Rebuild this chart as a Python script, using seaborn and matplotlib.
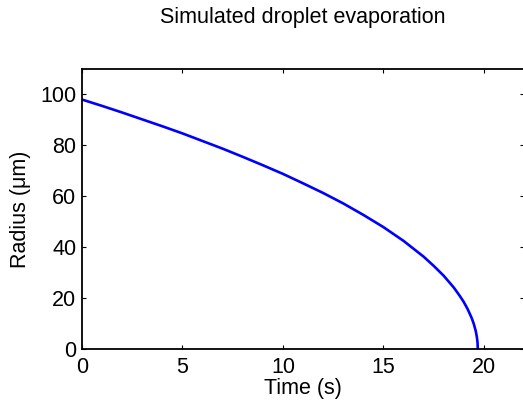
import numpy as np
import pandas as pd
import seaborn as sns
import matplotlib
matplotlib.use('Agg')
import matplotlib.pyplot as plt

# values
time_s = [0, 1, 2, 3, 4, 5, 6, 7, 8, 9, 10, 11, 12, 13, 14, 15, 16, 17,
          17.5, 18, 18.5, 18.8, 19.0, 19.2, 19.4, 19.5, 19.6, 19.65, 19.68, 19.69, 19.7]
radius_um = [98.0, 95.5, 92.9, 90.2, 87.5, 84.7, 81.7, 78.7, 75.5, 72.2, 68.8, 65.1,
             61.3, 57.2, 52.7, 47.9, 42.5, 36.3, 32.7, 28.8, 24.2, 20.9, 18.5, 15.6,
             12.1, 9.9, 7.0, 4.9, 3.1, 2.2, 0.0]
x_ticks = [0, 5, 10, 15, 20]
y_ticks = [0, 20, 40, 60, 80, 100]

df = pd.DataFrame({'time': time_s, 'radius': radius_um})

sns.set_style('white')
plt.rcParams['font.family'] = ['Liberation Sans', 'DejaVu Sans']
plt.rcParams['text.color'] = 'black'
plt.rcParams['axes.labelcolor'] = 'black'

fs = 15.5
fig = plt.figure(figsize=(5.23, 4.01), dpi=100)
ax = fig.add_axes([82 / 523, 52 / 401, 442 / 523, 280 / 401])

sns.lineplot(data=df, x='time', y='radius', sort=False, color='#0000ff',
             linewidth=1.9, ax=ax)

ax.set_xlim(0, 22)
ax.set_ylim(0, 110)
ax.set_xticks(x_ticks)
ax.set_yticks(y_ticks)
ax.tick_params(direction='in', length=3, width=0.8, top=True, right=True,
               bottom=True, left=True, labelsize=fs, colors='black')
ax.tick_params(axis='x', pad=6)
ax.tick_params(axis='y', pad=4)
for sp in ax.spines.values():
    sp.set_linewidth(1.3)
    sp.set_color('black')

ax.set_xlabel('Time (s)', fontsize=fs, labelpad=0)
ax.set_ylabel('Radius (\u03bcm)', fontsize=fs, labelpad=7)
ax.set_title('Simulated droplet evaporation', fontsize=fs, pad=33)

fig.savefig('out.png', dpi=100)
